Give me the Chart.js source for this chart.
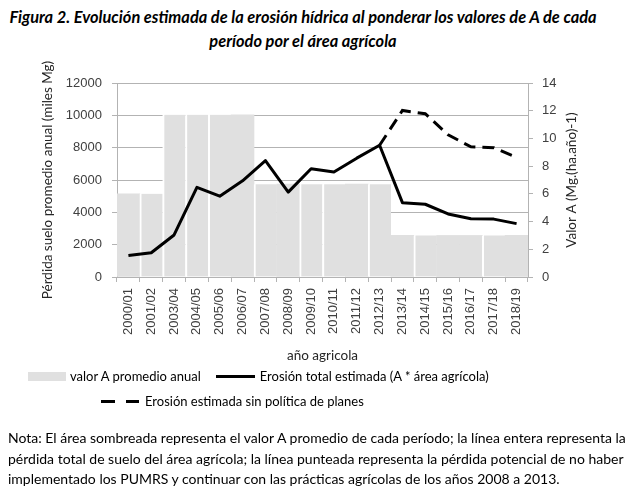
<!DOCTYPE html>
<html lang="es">
<head>
<meta charset="utf-8">
<title>Figura 2. Evolución estimada de la erosión hídrica</title>
<script src="https://cdn.jsdelivr.net/npm/chart.js@4.4.1/dist/chart.umd.min.js"></script>
<style>
  html, body { margin: 0; padding: 0; background: #fff; }
  #wrap { position: relative; width: 632px; height: 498px; overflow: hidden; font-family: Lato, "Liberation Sans", sans-serif; color: #000; }
  #chart { position: absolute; left: 0; top: 0; }
  .titulo { position: absolute; left: 0; width: 606px; text-align: center; font-weight: bold; font-style: italic; font-size: 16.4px; line-height: 1; white-space: nowrap; }
  .leyenda { position: absolute; display: flex; align-items: center; font-size: 13px; white-space: nowrap; }
  .leyenda .item { display: flex; align-items: center; margin-right: 15px; }
  .sw-bar { width: 38px; height: 9px; background: #e0e0e0; margin-right: 4px; }
  .sw-line { width: 39px; height: 3px; background: #000; margin-right: 5px; }
  .sw-dash { width: 38px; height: 3px; margin-right: 6px;
    background: linear-gradient(to right, #000 0 14px, transparent 14px 25px, #000 25px 38px); }
  .nota { position: absolute; left: 8px; top: 428px; width: 624px; font-size: 14px; line-height: 20.5px; white-space: nowrap; }
</style>
</head>
<body>
<div id="wrap">
  <div class="titulo" style="top:9px">Figura 2. Evolución estimada de la erosión hídrica al ponderar los valores de A de cada</div>
  <div class="titulo" style="top:33px">período por el área agrícola</div>
  <canvas id="chart" width="632" height="498"></canvas>
  <div class="leyenda" style="left:28px; top:368px" id="fila1"></div>
  <div class="leyenda" style="left:101px; top:393px" id="fila2"></div>
  <div class="nota">Nota: El área sombreada representa el valor A promedio de cada período; la línea entera representa la<br>pérdida total de suelo del área agrícola; la línea punteada representa la pérdida potencial de no haber<br>implementado los PUMRS y continuar con las prácticas agrícolas de los años 2008 a 2013.</div>
</div>
<script>
// años agrícolas (no hay 2002/03 en la figura)
const years = ["2000/01", "2001/02", "2003/04", "2004/05", "2005/06", "2006/07", "2007/08", "2008/09", "2009/10",
               "2010/11", "2011/12", "2012/13", "2013/14", "2014/15", "2015/16", "2016/17", "2017/18", "2018/19"];

// valor A promedio anual, Mg.(ha.año)-1 (eje derecho)
const valorA = [6.0, 6.0, 11.7, 11.7, 11.7, 11.7, 6.7, 6.7, 6.7, 6.7, 6.7, 6.7, 3.0, 3.0, 3.0, 3.0, 3.0, 3.0];

// erosión total estimada, miles Mg (eje izquierdo)
const erosionTotal = [1330, 1500, 2600, 5550, 5000, 5950, 7200, 5250, 6700, 6500, 7350, 8150,
                      4600, 4500, 3900, 3600, 3580, 3300];

// erosión estimada sin política de planes, desde 2012/13
const erosionSinPlanes = [null, null, null, null, null, null, null, null, null, null, null, 8150,
                          10300, 10100, 8800, 8050, 8000, 7400];

const leftTicks = [0, 2000, 4000, 6000, 8000, 10000, 12000];
const rightTicks = [0, 2, 4, 6, 8, 10, 12, 14];

const rightTitle = "Valor A (Mg.(ha.año)-1)";
const gridColor = "#b3b3b3";
const tickColor = "#404040";
const tickFont = { family: "Liberation Sans", size: 13 };
const titleFont = { family: "Lato", size: 13.5 };

// barras con separación blanca a la izquierda (como en la figura original)
const gapBars = [1, 2, 3, 4, 6, 8, 9, 11, 13, 16];

// el título del eje derecho se lee de abajo hacia arriba
const rightTitlePlugin = {
    id: "rightTitle",
    afterDraw(chart) {
        const { ctx, chartArea } = chart;
        ctx.save();
        ctx.fillStyle = "#262626";
        ctx.font = "13.5px Lato";
        ctx.textAlign = "center";
        ctx.textBaseline = "middle";
        ctx.translate(572, (chartArea.top + chartArea.bottom) / 2);
        ctx.rotate(-Math.PI / 2);
        ctx.fillText(rightTitle, 0, 0);
        ctx.restore();
    }
};

const chart = new Chart(document.getElementById("chart"), {
    type: "bar",
    data: {
        labels: years,
        datasets: [
            {
                type: "line",
                label: "Erosión total estimada (A * área agrícola)",
                data: erosionTotal,
                yAxisID: "y",
                borderColor: "#000",
                backgroundColor: "#000",
                borderWidth: 3,
                borderJoinStyle: "round",
                pointRadius: 0,
                order: 1
            },
            {
                type: "line",
                label: "Erosión estimada sin política de planes",
                data: erosionSinPlanes,
                yAxisID: "y",
                borderColor: "#000",
                backgroundColor: "#000",
                borderWidth: 3,
                borderDash: [12, 7],
                pointRadius: 0,
                spanGaps: false,
                order: 0
            },
            {
                label: "valor A promedio anual",
                data: valorA,
                yAxisID: "y2",
                backgroundColor: "#e0e0e0",
                borderColor: "#ffffff",
                borderWidth: ctx => gapBars.includes(ctx.dataIndex) ? { left: 2, right: 0, top: 0, bottom: 0 } : 0,
                borderSkipped: false,
                barPercentage: 1,
                categoryPercentage: 1,
                order: 2
            }
        ]
    },
    options: {
        responsive: false,
        animation: false,
        layout: { padding: { top: 83, left: 0, right: 0, bottom: 134 } },
        plugins: {
            legend: { display: false },
            tooltip: { enabled: false }
        },
        scales: {
            x: {
                offset: true,
                grid: { offset: true, drawOnChartArea: false, tickLength: 5, color: gridColor },
                border: { color: gridColor },
                ticks: { autoSkip: false, minRotation: 90, maxRotation: 90, padding: 6, color: tickColor, font: tickFont },
                title: { display: true, text: "año agricola", color: "#262626", font: titleFont, padding: { top: 0, bottom: 0 } },
                afterFit: scale => { scale.height = 87; }
            },
            y: {
                position: "left",
                min: 0,
                max: 12000,
                afterBuildTicks: scale => { scale.ticks = leftTicks.map(v => ({ value: v })); },
                ticks: { padding: 10, color: tickColor, font: tickFont, callback: v => String(v) },
                grid: { color: gridColor, tickLength: 5 },
                border: { color: gridColor },
                title: { display: true, text: "Pérdida suelo promedio anual (miles Mg)", color: "#262626", font: titleFont, padding: { top: 40, bottom: 0 } },
                afterFit: scale => { scale.width = 117; }
            },
            y2: {
                position: "right",
                min: 0,
                max: 14,
                afterBuildTicks: scale => { scale.ticks = rightTicks.map(v => ({ value: v })); },
                ticks: { padding: 9, color: tickColor, font: tickFont, callback: v => String(v) },
                grid: { drawOnChartArea: false, color: gridColor, tickLength: 5 },
                border: { color: gridColor },
                afterFit: scale => { scale.width = 104; }
            }
        }
    },
    plugins: [rightTitlePlugin]
});

// leyenda en HTML, a partir de los datasets del gráfico
function legendItem(ds, swatchClass) {
    const item = document.createElement("div");
    item.className = "item";
    const sw = document.createElement("span");
    sw.className = swatchClass;
    const txt = document.createElement("span");
    txt.textContent = ds.label;
    item.appendChild(sw);
    item.appendChild(txt);
    return item;
}

const sets = chart.data.datasets;
document.getElementById("fila1").appendChild(legendItem(sets[2], "sw-bar"));
document.getElementById("fila1").appendChild(legendItem(sets[0], "sw-line"));
document.getElementById("fila2").appendChild(legendItem(sets[1], "sw-dash"));
</script>
</body>
</html>
